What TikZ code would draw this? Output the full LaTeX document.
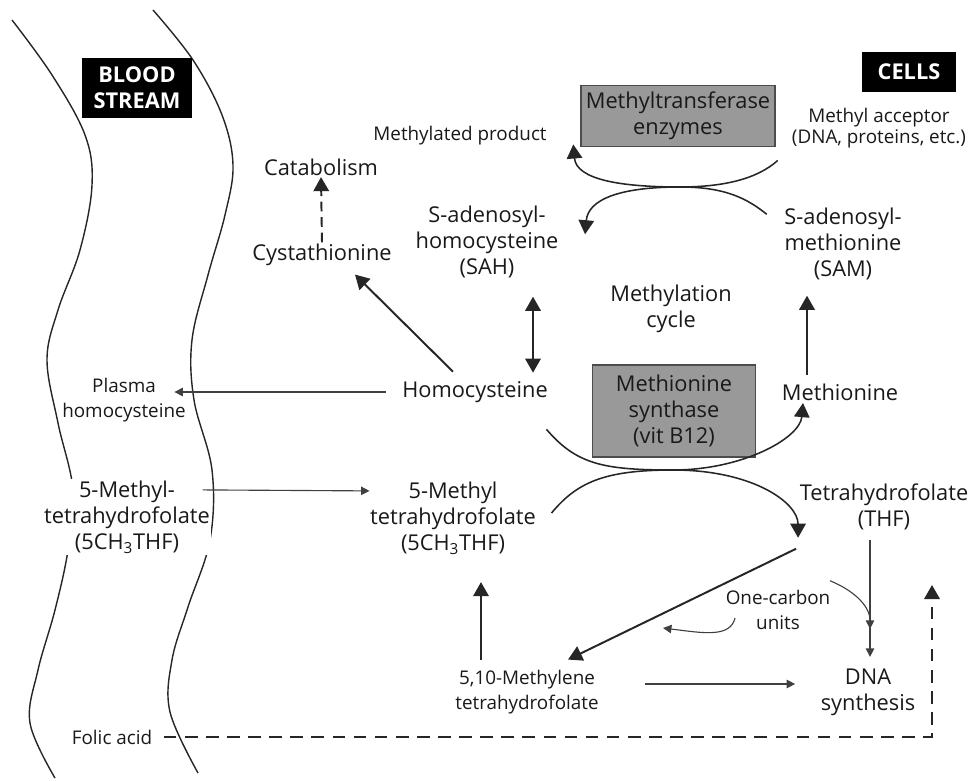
\documentclass[tikz,border=0pt]{standalone}
\usepackage{fontspec}
\setmainfont{Open Sans}
\usetikzlibrary{arrows.meta,calc}

\begin{document}
\begin{tikzpicture}[x=0.025cm,y=-0.025cm,
  txt/.style={align=center,text=black!90,font=\fontsize{15.5}{18.5}\selectfont,inner sep=1pt},
  sml/.style={align=center,text=black!90,font=\fontsize{13.4}{17.5}\selectfont,inner sep=1pt},
  tag/.style={fill=black,text=white,font=\fontsize{15.5}{18.5}\selectfont\bfseries,align=center,inner sep=2pt},
  enz/.style={draw=black!70,line width=1.2pt,fill=black!40,align=center,text=black!90,font=\fontsize{15.5}{18.5}\selectfont},
  big/.style={line width=1.4pt,draw=black!85,-{Triangle[width=11pt,length=10pt]}},
  curvy/.style={line width=1.1pt,draw=black!85,-{Triangle[width=11pt,length=10pt]}},
  thin/.style={line width=0.8pt,draw=black!75,-{Triangle[width=6pt,length=6pt]}},
  vessel/.style={line width=1pt,draw=black!85}]

\useasboundingbox (0,0) rectangle (970,780);

\draw[vessel] plot[smooth,tension=0.6] coordinates {(12,20) (52,75) (85,135) (92,185) (80,250) (58,310) (47,360) (58,423) (73,490) (68,550) (55,610) (38,670) (30,723) (55,778)};
\draw[vessel] plot[smooth,tension=0.6] coordinates {(153,10) (193,60) (222,115) (233,165) (225,215) (208,275) (192,340) (194,400) (212,470) (210,540) (188,607) (172,660) (170,712) (198,773)};

\node[tag,minimum width=2.75cm,minimum height=1.5cm] (blood) at (137,88) {BLOOD\\STREAM};
\node[tag,minimum width=2.33cm,minimum height=0.98cm] (cells) at (909,72) {CELLS};
\node[enz,minimum width=4.63cm,minimum height=1.53cm] (mtase) at (678,116) {Methyltransferase\\enzymes};
\node[enz,minimum width=4.08cm,minimum height=2.3cm] (msyn) at (674,411) {Methionine\\synthase\\(vit B12)};

\node[sml] (mprod) at (460,136) {Methylated product};
\node[sml,font=\fontsize{13.4}{15}\selectfont] (macc) at (879,128) {Methyl acceptor\\(DNA, proteins, etc.)};
\node[txt] (sah) at (487,242) {S-adenosyl-\\homocysteine\\(SAH)};
\node[txt] (sam) at (843,244) {S-adenosyl-\\methionine\\(SAM)};
\node[txt] (catab) at (321,167) {Catabolism};
\node[txt] (cysta) at (322,255) {Cystathionine};
\node[txt] (cycle) at (671,309) {Methylation\\cycle};
\node[txt] (hcy) at (475,392) {Homocysteine};
\node[txt] (met) at (840,392) {Methionine};
\node[sml] (plasma) at (124,400) {Plasma\\homocysteine};
\node[txt,fill=white] (bmthf) at (127,517) {5-Methyl-\\tetrahydrofolate\\(5CH\textsubscript{3}THF)};
\node[txt] (mthf) at (453,518) {5-Methyl\\tetrahydrofolate\\(5CH\textsubscript{3}THF)};
\node[txt] (thf) at (884,507) {Tetrahydrofolate\\(THF)};
\node[sml] (onec) at (778,610) {One-carbon\\units};
\node[sml] (mlthf) at (527,692) {5,10-Methylene\\tetrahydrofolate};
\node[txt] (dna) at (868,692) {DNA\\synthesis};
\node[sml] (folic) at (112,737) {Folic acid};

\coordinate (tx) at (680,187);
\coordinate (tb) at (673,470);
\coordinate (onecend) at (663,628);
\coordinate (folicup) at (932,585);

\draw[big,dashed,dash pattern=on 7pt off 4pt] (cysta.north) -- (catab.south);
\draw[big] ($(hcy.north)+(-22,-8)$) -- ($(cysta.south)+(33,7)$);
\draw[big,{Triangle[width=11pt,length=10pt]}-{Triangle[width=11pt,length=10pt]}] ($(hcy.north)+(58,-7)$) -- ($(sah.south)+(46,17)$);
\draw[big] ($(met.north)+(-33,-7)$) -- ($(sam.south)+(-36,14)$);

\draw[curvy] ($(mtase.south east)+(2,13)$) .. controls +(-20,18) and +(45,0) .. (tx)
  .. controls +(-60,0) and +(3,35) .. ($(mtase.south west)+(-7,-3)$);
\draw[curvy] ($(sam.north west)+(-16,8)$) .. controls +(-20,-16) and +(45,0) .. (tx)
  .. controls +(-60,0) and +(3,-35) .. ($(sah.north east)+(25,30)$);

\draw[curvy] ($(hcy.south east)+(-3,25)$) .. controls +(30,35) and +(-70,0) .. (tb)
  .. controls +(70,0) and +(-3,35) .. ($(met.south)+(-37,1)$);
\draw[curvy] ($(mthf.east)+(14,-5)$) .. controls +(25,-30) and +(-70,0) .. (tb)
  .. controls +(80,0) and +(0,-35) .. ($(thf.south west)+(0,6)$);

\draw[thin] ($(hcy.west)+(-15,0)$) -- ($(plasma.east)+(-13,-8)$);
\draw[thin] ($(bmthf.north east)+(-9,11)$) -- ($(mthf.north west)+(1,11)$);
\draw[big] ($(mlthf.north)+(-46,-9)$) -- ($(mthf.south)+(28,26)$);
\draw[thin] ($(mlthf.east)+(45,-8)$) -- ($(dna.west)+(-24,-8)$);
\draw[big] ($(thf.south west)+(-2,17)$) -- ($(mlthf.north)+(41,-9)$);
\draw[thin] ($(onec.west)+(11,8)$) .. controls +(-5,20) and +(40,5) .. (onecend);
\draw[thin] ($(thf.south)+(-14,8)$) -- ($(dna.north)+(2,-10)$);
\draw[thin] ($(onec.north east)+(-2,-8)$) .. controls +(20,8) and +(0,-25) .. ($(dna.north)+(2,-38)$);
\draw[big,dashed,dash pattern=on 9pt off 6pt] ($(folic.east)+(10,0)$) -| (folicup);
\end{tikzpicture}
\end{document}
